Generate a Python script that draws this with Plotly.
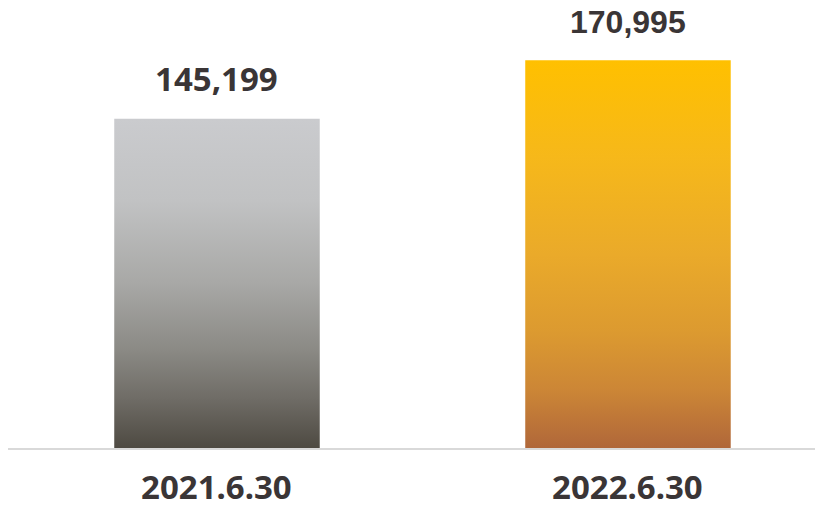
import plotly.graph_objects as go

categories = ["2021.6.30", "2022.6.30"]
values = [145199, 170995]
value_labels = ["145,199", "170,995"]

gradients = [
    [[0.0, "#4E4A42"], [0.15, "#6F6C66"], [0.3, "#8B8A85"], [0.5, "#A8A8A6"], [0.75, "#C1C2C3"], [1.0, "#CACBCE"]],
    [[0.0, "#B0673A"], [0.15, "#CC8636"], [0.3, "#DC9A30"], [0.5, "#EAAA2A"], [0.75, "#F6B81A"], [1.0, "#FFC000"]],
]
value_fonts = [("Noto Sans", 33, 17), ("Liberation Sans, Arial", 32, 19)]

half_w = 0.25
fig = go.Figure()
for i, (v, g) in enumerate(zip(values, gradients)):
    fig.add_trace(go.Scatter(
        x=[i - half_w, i + half_w, i + half_w, i - half_w, i - half_w],
        y=[0, 0, v, v, 0],
        mode="lines", line=dict(width=0), fill="toself",
        fillgradient=dict(type="vertical", colorscale=g),
        hoverinfo="skip", showlegend=False,
    ))
    fam, sz, ysh = value_fonts[i]
    fig.add_annotation(x=i, y=v, text=value_labels[i], showarrow=False,
                       yanchor="bottom", yshift=ysh, borderpad=0,
                       font=dict(family=fam, size=sz, color="#3A3536", weight="bold"))
    fig.add_annotation(x=i, y=0, yref="paper", text=categories[i],
                       showarrow=False, yanchor="top", yshift=-15, borderpad=0,
                       font=dict(family="Noto Sans", size=33, color="#3A3536", weight="bold"))

fig.update_layout(
    width=815, height=498,
    margin=dict(l=0, r=0, t=0, b=58),
    paper_bgcolor="white", plot_bgcolor="white",
    xaxis=dict(range=[-0.5085, 1.4745], showline=True, linecolor="#D9D9D9", linewidth=2,
               showticklabels=False, showgrid=False, zeroline=False, ticks=""),
    yaxis=dict(range=[0, 194090], visible=False, showgrid=False, zeroline=False),
)
fig.write_html("out.html")
